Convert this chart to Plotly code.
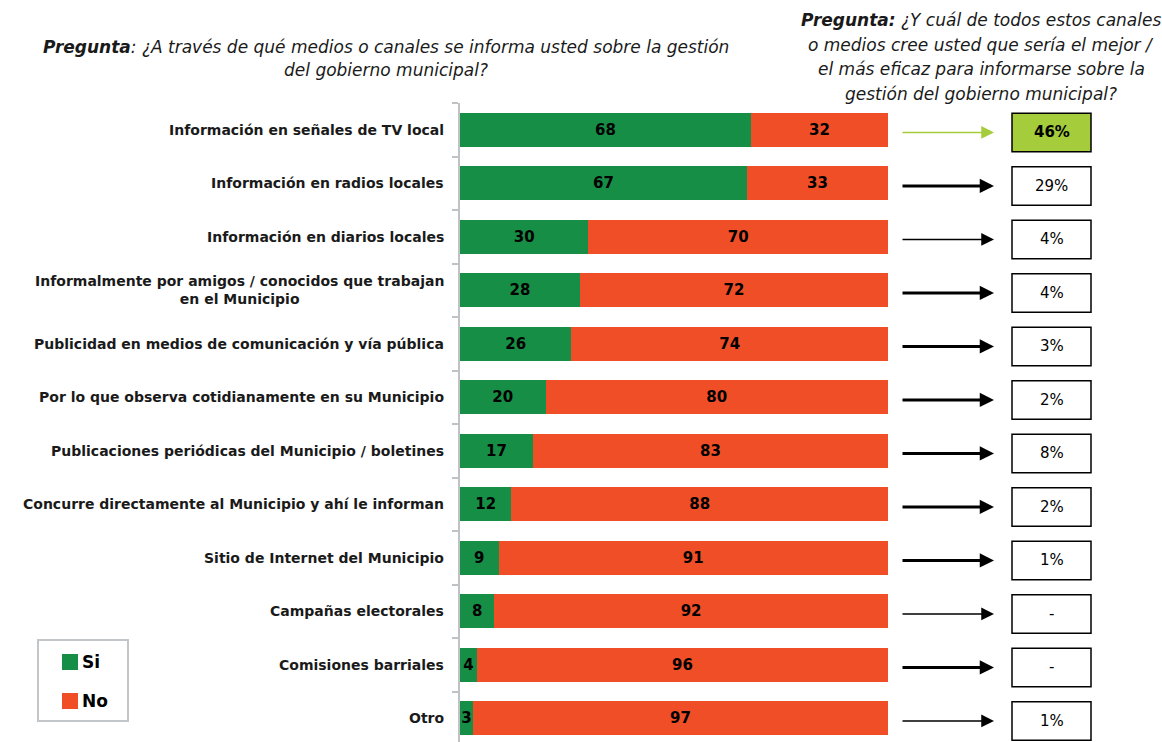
import plotly.graph_objects as go

# ---------------- data ----------------
categories = [
    "Información en señales de TV local",
    "Información en radios locales",
    "Información en diarios locales",
    "Informalmente por amigos / conocidos que trabajan<br>en el Municipio",
    "Publicidad en medios de comunicación y vía pública",
    "Por lo que observa cotidianamente en su Municipio",
    "Publicaciones periódicas del Municipio / boletines",
    "Concurre directamente al Municipio y ahí le informan",
    "Sitio de Internet del Municipio",
    "Campañas electorales",
    "Comisiones barriales",
    "Otro",
]
si_values = [68, 67, 30, 28, 26, 20, 17, 12, 9, 8, 4, 3]
no_values = [32, 33, 70, 72, 74, 80, 83, 88, 91, 92, 96, 97]
best_channel = ["46%", "29%", "4%", "4%", "3%", "2%", "8%", "2%", "1%", "-", "-", "1%"]
series_names = ["Si", "No"]

left_title_lines = [
    "<b>Pregunta</b>: ¿A través de qué medios o canales se informa usted sobre la gestión",
    "del gobierno municipal?",
]
right_title_lines = [
    "<b>Pregunta:</b> ¿Y cuál de todos estos canales",
    "o medios cree usted que sería el mejor /",
    "el más eficaz para informarse sobre la",
    "gestión del gobierno municipal?",
]

# ---------------- style ----------------
W, H = 1162, 742
GREEN = "#178E46"
ORANGE = "#F04E27"
LIME = "#A4CC3B"
FONT = "DejaVu Sans"
thick_rows = {1, 3, 4, 5, 6, 7, 8, 10}
highlight_row = 0


def px(x):
    return x / W


def py(y):
    return 1 - y / H


idx = list(range(len(categories)))

fig = go.Figure()
fig.add_trace(go.Bar(
    y=idx, x=si_values, orientation="h", name=series_names[0],
    marker=dict(color=GREEN, line=dict(width=0)),
    text=[str(v) for v in si_values], textposition="inside",
    insidetextanchor="middle", textangle=0, constraintext="none",
    textfont=dict(family=FONT, size=15, color="black", weight="bold"),
    showlegend=False, hoverinfo="skip",
))
fig.add_trace(go.Bar(
    y=idx, x=no_values, orientation="h", name=series_names[1],
    marker=dict(color=ORANGE, line=dict(width=0)),
    text=[str(v) for v in no_values], textposition="inside",
    insidetextanchor="middle", textangle=0, constraintext="none",
    textfont=dict(family=FONT, size=15, color="black", weight="bold"),
    showlegend=False, hoverinfo="skip",
))

annotations = []
shapes = []

# category labels
for i, c in enumerate(categories):
    annotations.append(dict(
        x=px(446), xref="paper", y=i, yref="y", xanchor="right", yanchor="middle",
        text=c, showarrow=False, align="center",
        font=dict(family=FONT, size=14, color="#1a1a1a", weight="bold"),
    ))

# right panel: arrows + boxes
off = 0.05
for i, v in enumerate(best_channel):
    is_hl = i == highlight_row
    color = LIME if is_hl else "black"
    width = 3 if i in thick_rows else 1.5
    size = 0.95 if i in thick_rows else 1.7
    annotations.append(dict(
        x=px(994), xref="paper", y=i + off, yref="y",
        ax=-93, ay=0, axref="pixel", ayref="pixel",
        text="", showarrow=True, arrowhead=2, arrowsize=size,
        arrowwidth=width, arrowcolor=color,
    ))
    shapes.append(dict(
        type="rect", xref="paper", yref="y",
        x0=px(1012), x1=px(1091), y0=i + off - 0.36, y1=i + off + 0.36,
        line=dict(color="black", width=1.5),
        fillcolor=LIME if is_hl else "white", layer="below",
    ))
    annotations.append(dict(
        x=px(1051.5), xref="paper", y=i + off, yref="y",
        xanchor="center", yanchor="middle",
        text=f"<b>{v}</b>" if is_hl else v, showarrow=False,
        font=dict(family=FONT, size=15, color="black"),
    ))

# titles
for k, line in enumerate(left_title_lines):
    annotations.append(dict(
        x=px(386), xref="paper", y=py(47 + 23 * k), yref="paper",
        text=line, showarrow=False, xanchor="center", yanchor="middle",
        font=dict(family=FONT, size=17, color="#1a1a1a", style="italic"),
    ))
for k, line in enumerate(right_title_lines):
    annotations.append(dict(
        x=px(981), xref="paper", y=py(20 + 24.7 * k), yref="paper",
        text=line, showarrow=False, xanchor="center", yanchor="middle",
        font=dict(family=FONT, size=17, color="#1a1a1a", style="italic"),
    ))

# legend (manual)
shapes.append(dict(type="rect", xref="paper", yref="paper",
                   x0=px(38), x1=px(128), y0=py(721), y1=py(640),
                   line=dict(color="#c3c6c9", width=2), fillcolor="white"))
for k, (name, col) in enumerate(zip(series_names, [GREEN, ORANGE])):
    yc = 662 + 39 * k
    shapes.append(dict(type="rect", xref="paper", yref="paper",
                       x0=px(62), x1=px(78), y0=py(yc + 8), y1=py(yc - 8),
                       line=dict(width=0), fillcolor=col))
    annotations.append(dict(
        x=px(80), xref="paper", y=py(yc), yref="paper", xanchor="left",
        yanchor="middle", text=name, showarrow=False,
        font=dict(family=FONT, size=17, color="black", weight="bold"),
    ))

band = 53.5
top = 103
bottom_units = (H - top) / band - 0.5

fig.update_layout(
    width=W, height=H,
    margin=dict(l=0, r=0, t=0, b=0),
    paper_bgcolor="white", plot_bgcolor="white",
    barmode="stack", bargap=0.364,
    xaxis=dict(domain=[px(460), px(888)], range=[0, 100], visible=False,
               fixedrange=True),
    yaxis=dict(domain=[0, py(top)], range=[bottom_units, -0.5],
               type="linear", showticklabels=False, showgrid=False,
               zeroline=False, showline=True, linecolor="#c0c3c6", linewidth=2,
               ticks="outside", ticklen=6, tickcolor="#c0c3c6", tickwidth=2,
               tickmode="array", tickvals=[i - 0.5 for i in idx],
               fixedrange=True),
    annotations=annotations, shapes=shapes,
    showlegend=False,
)

fig.write_html(
    "out.html",
    config={"displayModeBar": False},
    post_script="document.body.style.margin='0';document.body.style.padding='0';",
)
